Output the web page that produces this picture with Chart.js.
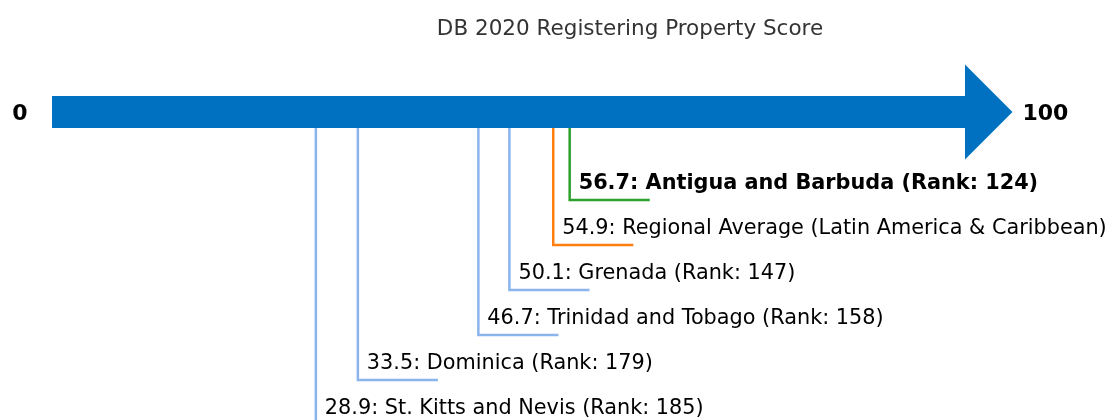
<!DOCTYPE html>
<html>
<head>
<meta charset="utf-8">
<script src="https://cdn.jsdelivr.net/npm/chart.js@4.4.1/dist/chart.umd.min.js"></script>
<style>
  html, body { margin: 0; padding: 0; background: #fff; }
  #wrap { width: 1110px; height: 420px; }
</style>
</head>
<body>
<div id="wrap"><canvas id="chart-score"></canvas></div>
<script>
// Data
const names = ['Antigua and Barbuda', 'Regional Average (Latin America & Caribbean)', 'Grenada', 'Trinidad and Tobago', 'Dominica', 'St. Kitts and Nevis'];
const scores = [56.7, 54.9, 50.1, 46.7, 33.5, 28.9];
const ranks = [124, null, 147, 158, 179, 185];
const axisLabels = ['0', '100'];
const title = 'DB 2020 Registering Property Score';

const lineColors = ['#2ca02c', '#ff7f0e', '#8cb4ec', '#8cb4ec', '#8cb4ec', '#8cb4ec'];
const FONT = "'DejaVu Sans', sans-serif";

// rows: arrow centre at 0, one row = 45px
const arrowHalf = 0.356;
const headHalf = 1.056;
const tipX = 105.2;
const rowY = i => 1.956 + i;
const tailLen = 8.77;

const datasets = [];

// arrow shape
datasets.push({
  data: [
    {x: 0, y: -arrowHalf}, {x: 100, y: -arrowHalf}, {x: 100, y: -headHalf},
    {x: tipX, y: 0}, {x: 100, y: headHalf}, {x: 100, y: arrowHalf},
    {x: 0, y: arrowHalf}, {x: 0, y: -arrowHalf}
  ],
  showLine: true,
  borderWidth: 0,
  borderColor: '#0070c0',
  backgroundColor: '#0070c0',
  fill: 'shape',
  pointRadius: 0,
  tension: 0,
  clip: false,
  order: 0
});

// L-shaped leaders
scores.forEach((v, i) => {
  datasets.push({
    data: [{x: v, y: arrowHalf}, {x: v, y: rowY(i)}, {x: v + tailLen, y: rowY(i)}],
    showLine: true,
    borderColor: lineColors[i],
    borderWidth: 2.5,
    pointRadius: 0,
    fill: false,
    tension: 0,
    clip: false,
    order: 1
  });
});

const labelPlugin = {
  id: 'labels',
  afterDatasetsDraw(chart) {
    const {ctx, scales: {x, y}} = chart;
    ctx.save();
    ctx.textBaseline = 'middle';
    // title
    ctx.fillStyle = '#333';
    ctx.font = '21.5px ' + FONT;
    ctx.textAlign = 'center';
    ctx.fillText(title, 630, 29);
    // axis ends
    ctx.fillStyle = '#000';
    ctx.font = 'bold 22px ' + FONT;
    ctx.fillText(axisLabels[0], 20, y.getPixelForValue(0) + 2);
    ctx.textAlign = 'left';
    ctx.fillText(axisLabels[1], x.getPixelForValue(tipX) + 10, y.getPixelForValue(0) + 2);
    // entries
    scores.forEach((v, i) => {
      const txt = v.toFixed(1) + ': ' + names[i] + (ranks[i] ? ' (Rank: ' + ranks[i] + ')' : '');
      ctx.font = (i === 0 ? 'bold ' : '') + '20.8px ' + FONT;
      ctx.fillText(txt, x.getPixelForValue(v) + 9, y.getPixelForValue(rowY(i)) - 16);
    });
    ctx.restore();
  }
};

new Chart(document.getElementById('chart-score'), {
  type: 'scatter',
  data: { datasets },
  options: {
    responsive: true,
    maintainAspectRatio: false,
    animation: false,
    layout: { padding: { left: 52, right: 53.7, top: 0, bottom: 0 } },
    scales: {
      x: { type: 'linear', min: 0, max: 110, display: false },
      y: { type: 'linear', min: -112 / 45, max: 308 / 45, reverse: true, display: false }
    },
    plugins: {
      legend: { display: false },
      tooltip: { enabled: false },
      title: { display: false }
    }
  },
  plugins: [labelPlugin]
});
</script>
</body>
</html>
